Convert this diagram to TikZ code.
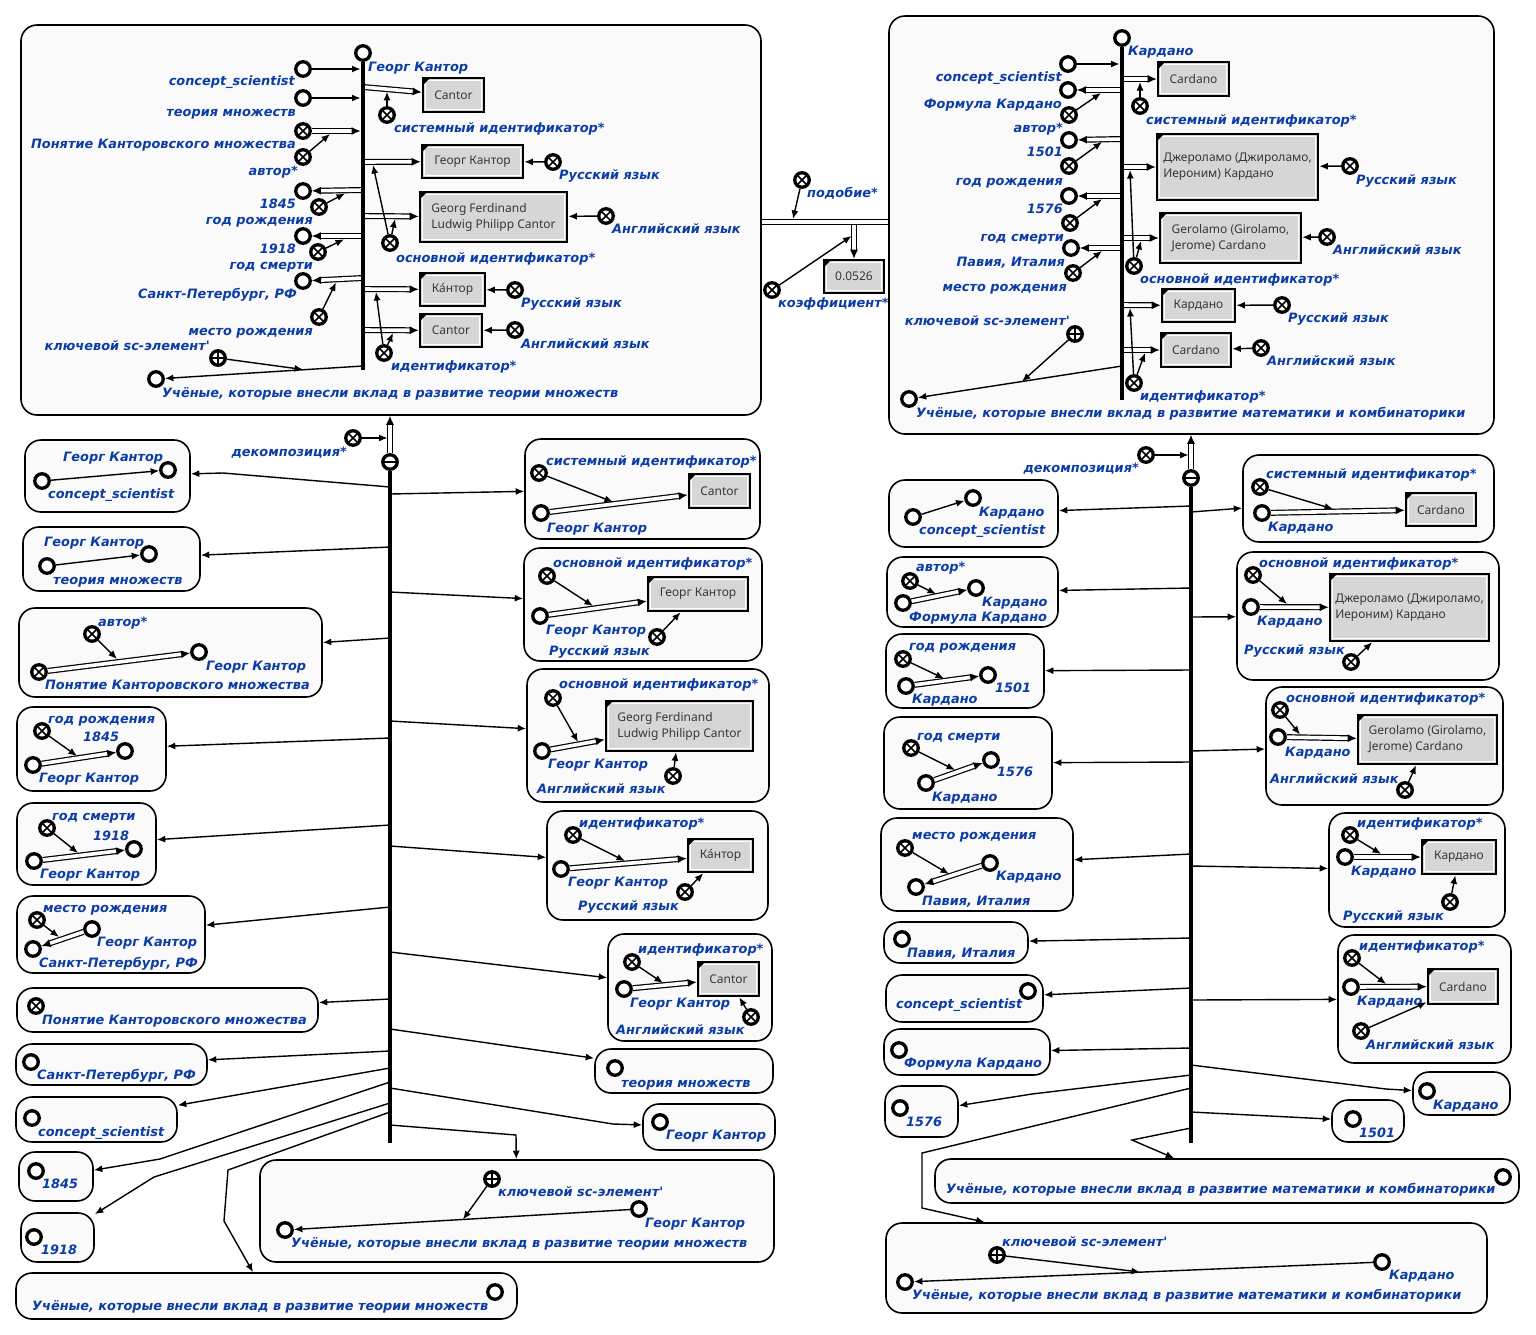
\documentclass[tikz,border=0pt]{standalone}
\usepackage{fontspec}
\usetikzlibrary{arrows.meta}
\newfontfamily\lblfamily{DejaVu Sans}
\newfontfamily\boxfamily{Noto Sans}
\definecolor{lblblue}{RGB}{12,60,165}
\definecolor{ctrfill}{RGB}{250,250,250}
\definecolor{linkgray}{RGB}{214,214,214}
\definecolor{linktext}{RGB}{55,55,55}
\tikzset{
  lbl/.style={font=\lblfamily\bfseries\itshape\fontsize{12.9}{15}\selectfont, text=lblblue, inner sep=0pt, yshift=-2pt},
  contour/.style={rectangle, draw=black, line width=1.6pt, fill=ctrfill, rounded corners=16pt, inner sep=0pt},
  cnode/.style={circle, draw=black, line width=3.3pt, fill=white, minimum size=14.5pt, inner sep=0pt},
  vnode/.style={cnode, path picture={\draw[line width=1.6pt]
      ([shift={(-4pt,-4pt)}]path picture bounding box.center) -- ([shift={(4pt,4pt)}]path picture bounding box.center)
      ([shift={(-4pt,4pt)}]path picture bounding box.center) -- ([shift={(4pt,-4pt)}]path picture bounding box.center);}},
  pnode/.style={cnode, path picture={\draw[line width=1.7pt]
      ([xshift=-6pt]path picture bounding box.center) -- ([xshift=6pt]path picture bounding box.center)
      ([yshift=-6pt]path picture bounding box.center) -- ([yshift=6pt]path picture bounding box.center);}},
  mnode/.style={cnode, path picture={\draw[line width=2pt]
      ([xshift=-6pt]path picture bounding box.center) -- ([xshift=6pt]path picture bounding box.center);}},
  linkbox/.style={rectangle, draw=black, line width=2.6pt, fill=linkgray, inner sep=0pt, align=left,
      font=\boxfamily\fontsize{12}{16}\selectfont, text=linktext,
      path picture={
        \draw[white, line width=1pt] ([shift={(2.1pt,-2.1pt)}]path picture bounding box.north west)
            rectangle ([shift={(-2.1pt,2.1pt)}]path picture bounding box.south east);
        \fill[black] (path picture bounding box.north west) -- ++(7pt,0pt) -- ++(-7pt,-7pt) -- cycle;}},
  ar/.style={line width=1.4pt, -{Latex[length=8.5pt,width=7pt]}},
  darc/.style={line width=1.2pt, double=white, double distance=3.6pt, -{Latex[length=9pt,width=8pt]}},
  dline/.style={line width=1.2pt, double=white, double distance=3.6pt},
  bus/.style={line width=4.8pt},
}
% element helpers
\newcommand\scN[2]{\node[cnode] (#1) at (#2) {};}
\newcommand\scV[2]{\node[vnode] (#1) at (#2) {};}
\newcommand\scP[2]{\node[pnode] (#1) at (#2) {};}
\newcommand\scC[5]{\node[contour, minimum width={(#4-#2)*1pt}, minimum height={(#5-#3)*1pt}] (#1) at ({(#2+#4)/2},{(#3+#5)/2}) {};}
\newcommand\scL[6]{\node[linkbox, minimum width={(#4-#2)*1pt}, minimum height={(#5-#3)*1pt}] (#1) at ({(#2+#4)/2},{(#3+#5)/2}) {#6};}
\newcounter{lbn}
\newcommand\labW[2]{\stepcounter{lbn}\node[lbl, anchor=mid west] (lab\thelbn) at (#1) {#2};}
\newcommand\labE[2]{\stepcounter{lbn}\node[lbl, anchor=mid east] (lab\thelbn) at (#1) {#2};}

\begin{document}
\begin{tikzpicture}[x=1pt,y=-1pt]
\useasboundingbox (0,0) rectangle (1536,1334);
\fill[white] (0,0) rectangle (1536,1334);

% ===================== outer structures =====================
\scC{tl}{21}{25}{761}{415}
\scC{tr}{889}{16}{1494}{434}

% ---------- Cantor structure ----------
\scN{tlk}{363,53} \labW{368,67}{Георг Кантор}
\scN{tl1}{303,69} \labE{295,81}{concept\_scientist}
\scN{tl2}{303,98} \labE{296,112}{теория множеств}
\scV{tl3}{303,131} \labE{296,144}{Понятие Канторовского множества}
\scV{tl4}{303,157} \labE{298,171}{автор*}
\scN{tl5}{303,191} \labE{296,204}{1845}
\scV{tl6}{319,207} \labE{313,220}{год рождения}
\scN{tl7}{303,236} \labE{296,249}{1918}
\scV{tl8}{318,252} \labE{313,265}{год смерти}
\scN{tl9}{303,281} \labE{297,294}{Санкт-Петербург, РФ}
\scV{tl10}{319,317} \labE{313,331}{место рождения}
\scP{tl11}{218,358} \labE{210,346}{ключевой sc-элемент'}
\scN{tl12}{156,379} \labW{162,393}{Учёные, которые внесли вклад в развитие теории множеств}
\scL{tlA}{423}{78}{484}{112}{Cantor}
\scV{tlA1}{387,115} \labW{394,128}{системный идентификатор*}
\scL{tlB}{422}{145}{523}{178}{Георг Кантор}
\scV{tlB1}{553,162} \labW{559,175}{Русский язык}
\scL{tlC}{420}{192}{567}{242}{Georg Ferdinand\\Ludwig Philipp Cantor}
\scV{tlC1}{606,216} \labW{612,229}{Английский язык}
\scV{tlD}{390,243} \labW{396,258}{основной идентификатор*}
\scL{tlE}{420}{273}{485}{306}{Ка^^^^0301нтор}
\scV{tlE1}{515,290} \labW{521,303}{Русский язык}
\scL{tlF}{420}{314}{482}{347}{Cantor}
\scV{tlF1}{515,330} \labW{521,344}{Английский язык}
\scV{tlG}{384,353} \labW{391,366}{идентификатор*}

\coordinate (tlb1) at (360.5,69);  \coordinate (tlb2) at (360.5,98);
\coordinate (tlb3) at (360.5,131); \coordinate (tlm3) at (330,134);
\coordinate (tlb5) at (363,190);   \coordinate (tlm5) at (345,193.5);
\coordinate (tlb7) at (363,236);   \coordinate (tlm7) at (344,239.3);
\coordinate (tlb9) at (363,278);   \coordinate (tlm9) at (336,282.5);
\coordinate (tlbA) at (363,87);    \coordinate (tlmA) at (387,91.8);
\coordinate (tlbB) at (363,162);   \coordinate (tlmB) at (373,165);
\coordinate (tlbC) at (363,216);   \coordinate (tlmC) at (395,219);
\coordinate (tlbE) at (363,289);   \coordinate (tlmE) at (376,292);
\coordinate (tlbF) at (363,330);   \coordinate (tlmF) at (393,333);
\coordinate (tlbK) at (363,366);   \coordinate (tlmK) at (303,369.5);
\coordinate (tlbot) at (363,370);

\draw[ar] (tl1) -- (tlb1);
\draw[ar] (tl2) -- (tlb2);
\draw[darc] (tl3) -- (tlb3);
\draw[ar] (tl4) -- (tlm3);
\draw[darc] (tlb5) -- (tl5);
\draw[ar] (tl6) -- (tlm5);
\draw[darc] (tlb7) -- (tl7);
\draw[ar] (tl8) -- (tlm7);
\draw[darc] (tlb9) -- (tl9);
\draw[ar] (tl10) -- (tlm9);
\draw[darc] (tlbA) -- (tlA);
\draw[ar] (tlA1) -- (tlmA);
\draw[darc] (tlbB) -- (tlB);
\draw[ar] (tlB1) -- (tlB);
\draw[darc] (tlbC) -- (tlC);
\draw[ar] (tlC1) -- (tlC);
\draw[ar] (tlD) -- (tlmB);
\draw[ar] (tlD) -- (tlmC);
\draw[darc] (tlbE) -- (tlE);
\draw[ar] (tlE1) -- (tlE);
\draw[darc] (tlbF) -- (tlF);
\draw[ar] (tlF1) -- (tlF);
\draw[ar] (tlG) -- (tlmE);
\draw[ar] (tlG) -- (tlmF);
\draw[ar] (tlbK) -- (tl12);
\draw[ar] (tl11) -- (tlmK);
\draw[bus] (tlk) -- (tlbot);

% ---------- similarity between the two structures ----------
\coordinate (simy) at (825,222);
\draw[dline] (tl.east |- simy) -- (tr.west |- simy);
\scV{sim1}{802,180} \labW{807,193}{подобие*}
\coordinate (simm1) at (793,219);
\draw[ar] (sim1) -- (simm1);
\scL{num}{824}{260}{884}{293}{0.0526}
\coordinate (simb) at (854,225);
\draw[darc] (simb) -- (num);
\scV{sim2}{772,290} \labW{778,303}{коэффициент*}
\coordinate (simm2) at (851.5,236);
\draw[ar] (sim2) -- (simm2);

% ---------- Cardano structure ----------
\scN{trk}{1122,38} \labW{1128,51}{Кардано}
\scN{tr1}{1068,64} \labE{1062,77}{concept\_scientist}
\scN{tr2}{1068,90} \labE{1062,104}{Формула Кардано}
\scV{tr3}{1069,115} \labE{1063,128}{автор*}
\scN{tr4}{1069,140} \labE{1063,152}{1501}
\scV{tr5}{1069,166} \labE{1063,181}{год рождения}
\scN{tr6}{1069,196} \labE{1063,209}{1576}
\scV{tr7}{1070,223} \labE{1064,237}{год смерти}
\scN{tr8}{1071,248} \labE{1065,262}{Павия, Италия}
\scV{tr9}{1073,273} \labE{1067,287}{место рождения}
\scP{tr10}{1075,334} \labE{1070,321}{ключевой sc-элемент'}
\scN{tr11}{909,399} \labW{916,413}{Учёные, которые внесли вклад в развитие математики и комбинаторики}
\scL{trA}{1158}{62}{1229}{96}{Cardano}
\scV{trA1}{1140,106} \labW{1146,120}{системный идентификатор*}
\scL{trB}{1157}{134}{1318}{200}{Джероламо (Джироламо,\\Иероним) Кардано}
\scV{trB1}{1350,166} \labW{1356,180}{Русский язык}
\scL{trC}{1160}{213}{1301}{263}{Gerolamo (Girolamo,\\Jerome) Cardano}
\scV{trC1}{1327,237} \labW{1333,250}{Английский язык}
\scV{trD}{1134,266} \labW{1140,279}{основной идентификатор*}
\scL{trE}{1162}{289}{1235}{322}{Кардано}
\scV{trE1}{1282,305} \labW{1288,318}{Русский язык}
\scL{trF}{1161}{333}{1231}{367}{Cardano}
\scV{trF1}{1261,348} \labW{1267,361}{Английский язык}
\scV{trG}{1134,383} \labW{1140,396}{идентификатор*}

\coordinate (trb1) at (1119.5,64);
\coordinate (trb2) at (1122,90);  \coordinate (trm2) at (1101,93);
\coordinate (trb4) at (1122,139); \coordinate (trm4) at (1102,142);
\coordinate (trb6) at (1122,196); \coordinate (trm6) at (1102,199);
\coordinate (trb8) at (1122,248); \coordinate (trm8) at (1102,251);
\coordinate (trbA) at (1122,79);  \coordinate (trmA) at (1140,82);
\coordinate (trbB) at (1122,167); \coordinate (trmB) at (1130,170);
\coordinate (trbC) at (1122,238); \coordinate (trmC) at (1141,241);
\coordinate (trbE) at (1122,305); \coordinate (trmE) at (1130,308);
\coordinate (trbF) at (1122,350); \coordinate (trmF) at (1145,353);
\coordinate (trbK) at (1122,366); \coordinate (trmK) at (1022,381.5);
\coordinate (trbot) at (1122,400);

\draw[ar] (tr1) -- (trb1);
\draw[darc] (trb2) -- (tr2);
\draw[ar] (tr3) -- (trm2);
\draw[darc] (trb4) -- (tr4);
\draw[ar] (tr5) -- (trm4);
\draw[darc] (trb6) -- (tr6);
\draw[ar] (tr7) -- (trm6);
\draw[darc] (trb8) -- (tr8);
\draw[ar] (tr9) -- (trm8);
\draw[darc] (trbA) -- (trA);
\draw[ar] (trA1) -- (trmA);
\draw[darc] (trbB) -- (trB);
\draw[ar] (trB1) -- (trB);
\draw[darc] (trbC) -- (trC);
\draw[ar] (trC1) -- (trC);
\draw[ar] (trD) -- (trmB);
\draw[ar] (trD) -- (trmC);
\draw[darc] (trbE) -- (trE);
\draw[ar] (trE1) -- (trE);
\draw[darc] (trbF) -- (trF);
\draw[ar] (trF1) -- (trF);
\draw[ar] (trG) -- (trmE);
\draw[ar] (trG) -- (trmF);
\draw[ar] (trbK) -- (tr11);
\draw[ar] (tr10) -- (trmK);
\draw[bus] (trk) -- (trbot);

% ===================== decomposition of the Cantor structure =====================
\node[mnode] (blt) at (390,462) {};
\scV{bld}{353,438} \labE{347,452}{декомпозиция*}
\coordinate (bldm) at (387.5,438);
\draw[darc] (blt) -- (blt |- tl.south);
\draw[ar] (bld) -- (bldm);
\coordinate (blbot) at (390,1143);

% left parts
\scC{bl1}{25}{440}{190}{512}
\scN{bl1a}{42,481} \scN{bl1b}{168,470}
\labW{63,457}{Георг Кантор} \labW{48,494}{concept\_scientist}
\draw[ar] (bl1a) -- (bl1b);
\coordinate (blb1) at (390,487); \draw[ar] (blb1) -- (223,473) -- (bl1);

\scC{bl2}{23}{527}{200}{591}
\scN{bl2a}{47,566} \scN{bl2b}{149,554}
\labW{44,542}{Георг Кантор} \labW{53,580}{теория множеств}
\draw[ar] (bl2a) -- (bl2b);
\coordinate (blb2) at (390,547); \draw[ar] (blb2) -- (bl2);

\scC{bl3}{19}{608}{322}{697}
\scV{bl3a}{92,634} \scV{bl3b}{39,672} \scN{bl3c}{199,652}
\labW{98,622}{автор*} \labW{45,685}{Понятие Канторовского множества} \labW{206,666}{Георг Кантор}
\draw[darc] (bl3b) -- (bl3c);
\coordinate (blm3) at (117,659); \draw[ar] (bl3a) -- (blm3);
\coordinate (blb3) at (390,638); \draw[ar] (blb3) -- (bl3);

\scC{bl4}{17}{707}{166}{791}
\scV{bl4a}{42,731} \scN{bl4b}{125,751} \scN{bl4c}{33,765}
\labW{48,719}{год рождения} \labW{83,737}{1845} \labW{39,778}{Георг Кантор}
\draw[darc] (bl4c) -- (bl4b);
\coordinate (blm4) at (77,756); \draw[ar] (bl4a) -- (blm4);
\coordinate (blb4) at (390,738); \draw[ar] (blb4) -- (bl4);

\scC{bl5}{17}{803}{156}{885}
\scV{bl5a}{47,828} \scN{bl5b}{134,849} \scN{bl5c}{34,861}
\labW{52,816}{год смерти} \labW{93,836}{1918} \labW{40,874}{Георг Кантор}
\draw[darc] (bl5c) -- (bl5b);
\coordinate (blm5) at (78,853); \draw[ar] (bl5a) -- (blm5);
\coordinate (blb5) at (390,825); \draw[ar] (blb5) -- (bl5);

\scC{bl6}{17}{896}{205}{973}
\scV{bl6a}{37,920} \scN{bl6b}{92,929} \scN{bl6c}{33,949}
\labW{43,908}{место рождения} \labW{97,942}{Георг Кантор} \labW{39,963}{Санкт-Петербург, РФ}
\draw[darc] (bl6b) -- (bl6c);
\coordinate (blm6) at (59,937); \draw[ar] (bl6a) -- (blm6);
\coordinate (blb6) at (390,907); \draw[ar] (blb6) -- (bl6);

\scC{bl7}{17}{988}{318}{1032}
\scV{bl7a}{36,1006} \labW{42,1020}{Понятие Канторовского множества}
\coordinate (blb7) at (390,999); \draw[ar] (blb7) -- (bl7);

\scC{bl8}{16}{1044}{207}{1085}
\scN{bl8a}{31,1062} \labW{37,1075}{Санкт-Петербург, РФ}
\coordinate (blb8) at (390,1051); \draw[ar] (blb8) -- (bl8);

\scC{bl9}{16}{1097}{177}{1142}
\scN{bl9a}{32,1118} \labW{38,1132}{concept\_scientist}
\coordinate (blb9) at (390,1068); \draw[ar] (blb9) -- (bl9);

\scC{bl10}{19}{1152}{93}{1201}
\scN{bl10a}{36,1171} \labW{42,1184}{1845}
\coordinate (blb10) at (390,1082); \draw[ar] (blb10) -- (160,1159) -- (bl10);

\scC{bl11}{21}{1213}{94}{1262}
\scN{bl11a}{34,1237} \labW{41,1250}{1918}
\coordinate (blb11) at (390,1103); \draw[ar] (blb11) -- (154,1177) -- (bl11);

\scC{bl12}{16}{1273}{517}{1319}
\scN{bl12a}{495,1292} \labW{32,1306}{Учёные, которые внесли вклад в развитие теории множеств}
\coordinate (blb12) at (390,1112); \draw[ar] (blb12) -- (228,1170) -- (224,1221) -- (bl12);

% right parts
\scC{br1}{525}{439}{760}{539}
\scV{br1a}{539,473} \scN{br1b}{541,513} \scL{br1c}{689}{474}{750}{508}{Cantor}
\labW{546,461}{системный идентификатор*} \labW{547,528}{Георг Кантор}
\draw[darc] (br1b) -- (br1c);
\coordinate (brm1) at (613,502); \draw[ar] (br1a) -- (brm1);
\coordinate (brb1) at (390,494); \draw[ar] (brb1) -- (br1);

\scC{br2}{524}{548}{762}{661}
\scV{br2a}{547,576} \scN{br2b}{540,616} \scL{br2c}{648}{577}{748}{611}{Георг Кантор} \scV{br2d}{657,637}
\labW{553,563}{основной идентификатор*} \labW{546,630}{Георг Кантор} \labW{549,651}{Русский язык}
\draw[darc] (br2b) -- (br2c);
\coordinate (brm2) at (593,606); \draw[ar] (br2a) -- (brm2);
\draw[ar] (br2d) -- (br2c);
\coordinate (brb2) at (390,592); \draw[ar] (brb2) -- (br2);

\scC{br3}{527}{669}{769}{802}
\scV{br3a}{553,698} \scN{br3b}{542,751} \scL{br3c}{606}{701}{753}{751}{Georg Ferdinand\\Ludwig Philipp Cantor} \scV{br3d}{673,776}
\labW{559,684}{основной идентификатор*} \labW{548,764}{Георг Кантор} \labW{537,789}{Английский язык}
\draw[darc] (br3b) -- (br3c);
\coordinate (brm3) at (578,742); \draw[ar] (br3a) -- (brm3);
\draw[ar] (br3d) -- (br3c);
\coordinate (brb3) at (390,721); \draw[ar] (brb3) -- (br3);

\scC{br4}{547}{811}{768}{920}
\scV{br4a}{573,835} \scN{br4b}{561,869} \scL{br4c}{688}{839}{753}{872}{Ка^^^^0301нтор} \scV{br4d}{685,892}
\labW{579,823}{идентификатор*} \labW{568,882}{Георг Кантор} \labW{578,906}{Русский язык}
\draw[darc] (br4b) -- (br4c);
\coordinate (brm4) at (625,861); \draw[ar] (br4a) -- (brm4);
\draw[ar] (br4d) -- (br4c);
\coordinate (brb4) at (390,846); \draw[ar] (brb4) -- (br4);

\scC{br5}{608}{934}{772}{1041}
\scV{br5a}{632,962} \scN{br5b}{624,989} \scL{br5c}{698}{962}{759}{996}{Cantor} \scV{br5d}{751,1017}
\labW{638,949}{идентификатор*} \labW{630,1003}{Георг Кантор} \labW{616,1030}{Английский язык}
\draw[darc] (br5b) -- (br5c);
\coordinate (brm5) at (663,983); \draw[ar] (br5a) -- (brm5);
\draw[ar] (br5d) -- (br5c);
\coordinate (brb5) at (390,952); \draw[ar] (brb5) -- (br5);

\scC{br6}{595}{1049}{773}{1093}
\scN{br6a}{615,1068} \labW{621,1083}{теория множеств}
\coordinate (brb6) at (390,1029); \draw[ar] (brb6) -- (br6);

\scC{br7}{643}{1104}{775}{1150}
\scN{br7a}{660,1122} \labW{666,1135}{Георг Кантор}
\coordinate (brb7) at (390,1088); \draw[ar] (brb7) -- (613,1124) -- (br7);

\scC{br8}{260}{1160}{774}{1262}
\scP{br8a}{492,1179} \scN{br8b}{639,1209} \scN{br8c}{285,1230}
\labW{498,1192}{ключевой sc-элемент'} \labW{645,1223}{Георг Кантор}
\labW{291,1243}{Учёные, которые внесли вклад в развитие теории множеств}
\draw[ar] (br8b) -- (br8c);
\coordinate (brm8) at (463,1219.5); \draw[ar] (br8a) -- (brm8);
\coordinate (brb8) at (390,1125); \draw[ar] (brb8) -- (516,1135) -- (br8);

\draw[bus] (blt) -- (blbot);

% ===================== decomposition of the Cardano structure =====================
\node[mnode] (brt) at (1191,478) {};
\scV{brd}{1146,455} \labE{1139,468}{декомпозиция*}
\coordinate (brdm) at (1188.5,455);
\draw[darc] (brt) -- (brt |- tr.south);
\draw[ar] (brd) -- (brdm);
\coordinate (brbot) at (1191,1143);

% left parts
\scC{rl1}{889}{480}{1058}{547}
\scN{rl1a}{913,517} \scN{rl1b}{973,498}
\labW{979,512}{Кардано} \labW{919,530}{concept\_scientist}
\draw[ar] (rl1a) -- (rl1b);
\coordinate (rlb1) at (1191,506); \draw[ar] (rlb1) -- (rl1);

\scC{rl2}{887}{557}{1058}{627}
\scV{rl2a}{910,581} \scN{rl2b}{903,603} \scN{rl2c}{976,588}
\labW{916,567}{автор*} \labW{909,617}{Формула Кардано} \labW{982,602}{Кардано}
\draw[darc] (rl2b) -- (rl2c);
\coordinate (rlm2) at (936,594); \draw[ar] (rl2a) -- (rlm2);
\coordinate (rlb2) at (1191,588); \draw[ar] (rlb2) -- (rl2);

\scC{rl3}{886}{634}{1044}{708}
\scV{rl3a}{903,659} \scN{rl3b}{906,686} \scN{rl3c}{988,675}
\labW{909,646}{год рождения} \labW{912,699}{Кардано} \labW{995,688}{1501}
\draw[darc] (rl3b) -- (rl3c);
\coordinate (rlm3) at (944,678.5); \draw[ar] (rl3a) -- (rlm3);
\coordinate (rlb3) at (1191,670); \draw[ar] (rlb3) -- (rl3);

\scC{rl4}{884}{717}{1052}{809}
\scV{rl4a}{911,748} \scN{rl4b}{926,783} \scN{rl4c}{991,760}
\labW{917,736}{год смерти} \labW{932,797}{Кардано} \labW{997,772}{1576}
\draw[darc] (rl4b) -- (rl4c);
\coordinate (rlm4) at (955,770); \draw[ar] (rl4a) -- (rlm4);
\coordinate (rlb4) at (1191,762); \draw[ar] (rlb4) -- (rl4);

\scC{rl5}{881}{818}{1073}{911}
\scV{rl5a}{905,848} \scN{rl5b}{990,863} \scN{rl5c}{916,887}
\labW{912,835}{место рождения} \labW{996,876}{Кардано} \labW{922,901}{Павия, Италия}
\draw[darc] (rl5b) -- (rl5c);
\coordinate (rlm5) at (949,874); \draw[ar] (rl5a) -- (rlm5);
\coordinate (rlb5) at (1191,854); \draw[ar] (rlb5) -- (rl5);

\scC{rl6}{884}{922}{1028}{963}
\scN{rl6a}{902,939} \labW{907,953}{Павия, Италия}
\coordinate (rlb6) at (1191,938); \draw[ar] (rlb6) -- (rl6);

\scC{rl7}{886}{975}{1043}{1022}
\scN{rl7a}{1028,991} \labW{896,1004}{concept\_scientist}
\coordinate (rlb7) at (1191,988); \draw[ar] (rlb7) -- (rl7);

\scC{rl8}{884}{1029}{1050}{1075}
\scN{rl8a}{899,1050} \labW{904,1063}{Формула Кардано}
\coordinate (rlb8) at (1191,1048); \draw[ar] (rlb8) -- (rl8);

\scC{rl9}{885}{1086}{958}{1137}
\scN{rl9a}{900,1108} \labW{906,1122}{1576}
\coordinate (rlb9) at (1191,1075); \draw[ar] (rlb9) -- (1032,1094) -- (rl9);

\scC{rl10}{935}{1159}{1519}{1203}
\scN{rl10a}{1503,1177}
\labW{946,1189}{Учёные, которые внесли вклад в развитие математики и комбинаторики}
\coordinate (rlb10) at (1191,1128); \draw[ar] (rlb10) -- (1132,1140) -- (rl10);

\scC{rl11}{886}{1223}{1487}{1313}
\scP{rl11a}{997,1255} \scN{rl11b}{1382,1262} \scN{rl11c}{905,1282}
\labW{1002,1242}{ключевой sc-элемент'} \labW{1389,1275}{Кардано}
\labW{912,1295}{Учёные, которые внесли вклад в развитие математики и комбинаторики}
\draw[ar] (rl11b) -- (rl11c);
\coordinate (rlm11) at (1140,1272); \draw[ar] (rl11a) -- (rlm11);
\coordinate (rlb11) at (1191,1088); \draw[ar] (rlb11) -- (922,1153) -- (922,1208) -- (rl11);

% right parts
\scC{rr1}{1243}{455}{1494}{542}
\scV{rr1a}{1260,487} \scN{rr1b}{1262,513} \scL{rr1c}{1406}{493}{1476}{526}{Cardano}
\labW{1266,474}{системный идентификатор*} \labW{1268,527}{Кардано}
\draw[darc] (rr1b) -- (rr1c);
\coordinate (rrm1) at (1333,509); \draw[ar] (rr1a) -- (rrm1);
\coordinate (rrb1) at (1191,512); \draw[ar] (rrb1) -- (rr1);

\scC{rr2}{1237}{552}{1499}{680}
\scV{rr2a}{1253,575} \scN{rr2b}{1251,607} \scL{rr2c}{1330}{574}{1489}{641}{Джероламо (Джироламо,\\Иероним) Кардано} \scV{rr2d}{1351,662}
\labW{1259,563}{основной идентификатор*} \labW{1257,621}{Кардано} \labW{1244,650}{Русский язык}
\draw[darc] (rr2b) -- (rr2c);
\coordinate (rrm2) at (1287,604); \draw[ar] (rr2a) -- (rrm2);
\draw[ar] (rr2d) -- (rr2c);
\coordinate (rrb2) at (1191,617); \draw[ar] (rrb2) -- (rr2);

\scC{rr3}{1266}{687}{1503}{805}
\scV{rr3a}{1280,710} \scN{rr3b}{1278,737} \scL{rr3c}{1358}{715}{1497}{764}{Gerolamo (Girolamo,\\Jerome) Cardano} \scV{rr3d}{1405,790}
\labW{1286,698}{основной идентификатор*} \labW{1285,752}{Кардано} \labW{1270,779}{Английский язык}
\draw[darc] (rr3b) -- (rr3c);
\coordinate (rrm3) at (1300,734.5); \draw[ar] (rr3a) -- (rrm3);
\draw[ar] (rr3d) -- (rr3c);
\coordinate (rrb3) at (1191,751); \draw[ar] (rrb3) -- (rr3);

\scC{rr4}{1329}{813}{1505}{927}
\scV{rr4a}{1350,835} \scN{rr4b}{1345,857} \scL{rr4c}{1422}{840}{1496}{874}{Кардано} \scV{rr4d}{1450,902}
\labW{1357,823}{идентификатор*} \labW{1351,871}{Кардано} \labW{1343,916}{Русский язык}
\draw[darc] (rr4b) -- (rr4c);
\coordinate (rrm4) at (1381,854); \draw[ar] (rr4a) -- (rrm4);
\draw[ar] (rr4d) -- (rr4c);
\coordinate (rrb4) at (1191,866); \draw[ar] (rrb4) -- (rr4);

\scC{rr5}{1338}{935}{1511}{1063}
\scV{rr5a}{1352,958} \scN{rr5b}{1351,987} \scL{rr5c}{1428}{969}{1498}{1004}{Cardano} \scV{rr5d}{1361,1031}
\labW{1359,946}{идентификатор*} \labW{1357,1001}{Кардано} \labW{1366,1045}{Английский язык}
\draw[darc] (rr5b) -- (rr5c);
\coordinate (rrm5) at (1386,984); \draw[ar] (rr5a) -- (rrm5);
\draw[ar] (rr5d) -- (rr5c);
\coordinate (rrb5) at (1191,1000); \draw[ar] (rrb5) -- (rr5);

\scC{rr6}{1413}{1072}{1510}{1115}
\scN{rr6a}{1427,1091} \labW{1433,1105}{Кардано}
\coordinate (rrb6) at (1191,1065); \draw[ar] (rrb6) -- (1386,1089) -- (rr6);

\scC{rr7}{1332}{1100}{1404}{1142}
\scN{rr7a}{1353,1119} \labW{1359,1133}{1501}
\coordinate (rrb7) at (1191,1112); \draw[ar] (rrb7) -- (rr7);

\draw[bus] (brt) -- (brbot);
\end{tikzpicture}
\end{document}
